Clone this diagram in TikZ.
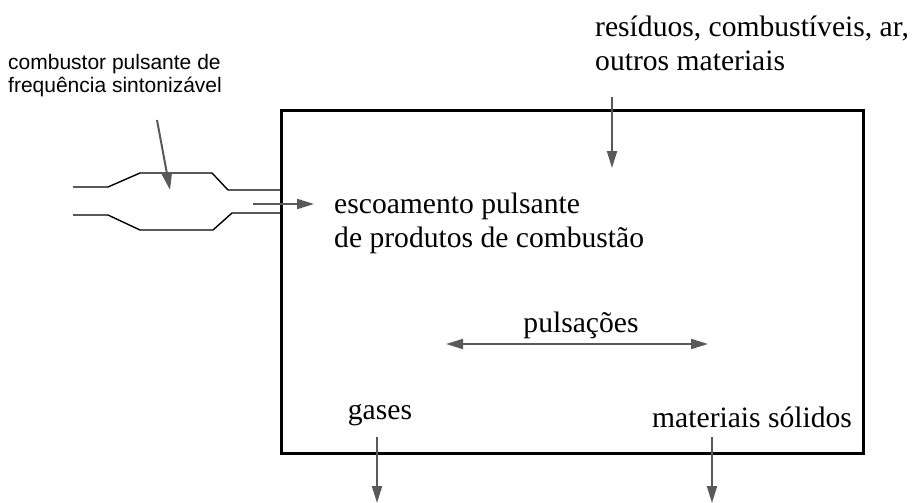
\documentclass[tikz,border=0pt]{standalone}
\usepackage{fontspec}
\setmainfont{Liberation Serif}
\newfontfamily\labelsans{Liberation Sans}
\usetikzlibrary{arrows.meta}

\begin{document}
\begin{tikzpicture}[x=1pt,y=-1pt,
      serif/.style ={font=\fontsize{29.6}{34}\selectfont,align=left,inner sep=0pt},
      sanslbl/.style={font=\labelsans\fontsize{21}{23}\selectfont,align=left,inner sep=0pt},
      flow/.style  ={draw=black!65,line width=2pt,-{Triangle[length=17pt,width=10pt]}},
      pulse/.style ={draw=black!65,line width=2pt,{Triangle[length=17pt,width=10pt]}-{Triangle[length=17pt,width=10pt]}},
      pipe/.style  ={line width=1.4pt},
      chamber/.style={draw,line width=3pt,inner sep=0pt,anchor=north west}]
  \useasboundingbox (0,0) rectangle (918,503);
  % Reactor chamber
  \node[chamber,minimum width=582pt,minimum height=343pt] (reactor) at (280,109) {};
  % Pulse combustor
  \draw[pipe] (73,187) -- (108,187) -- (140,173) -- (212,173) -- (228,190) -- (reactor.west |- 0,190);
  \draw[pipe] (73,215) -- (108,215) -- (140,230) -- (213,230) -- (232,213) -- (reactor.west |- 0,213);
  % Labels
  \node[sanslbl,anchor=north west] (combustor) at (8,54) {combustor pulsante de\\frequência sintonizável};
  \node[serif,anchor=north west] (feed) at (595,16) {resíduos, combustíveis, ar,\\outros materiais};
  \node[serif,anchor=north west] (jet) at (334,193) {escoamento pulsante\\de produtos de combustão};
  \node[serif] (pulses) at (581,325) {pulsações};
  \node[serif] (gases) at (380,415) {gases};
  \node[serif,anchor=west] (solids) at (652,417) {materiais sólidos};
  % Flow arrows
  \coordinate (pointer) at (157,120);
  \coordinate (pointertip) at (170,190);
  \coordinate (feedin) at (612,97);
  \coordinate (feedtip) at (612,168);
  \coordinate (jetin) at (253,204);
  \coordinate (pulseL) at (446,344);
  \coordinate (pulseR) at (708,344);
  \coordinate (gasout) at (377,437);
  \coordinate (gastip) at (377,503);
  \coordinate (solidout) at (712,437);
  \coordinate (solidtip) at (712,503);
  \draw[flow] (pointer) -- (pointertip);
  \draw[flow] (feedin) -- (feedtip);
  \draw[flow,shorten >=20pt] (jetin) -- (jet.west |- jetin);
  \draw[pulse] (pulseL) -- (pulseR);
  \draw[flow] (gasout) -- (gastip);
  \draw[flow] (solidout) -- (solidtip);
\end{tikzpicture}
\end{document}
